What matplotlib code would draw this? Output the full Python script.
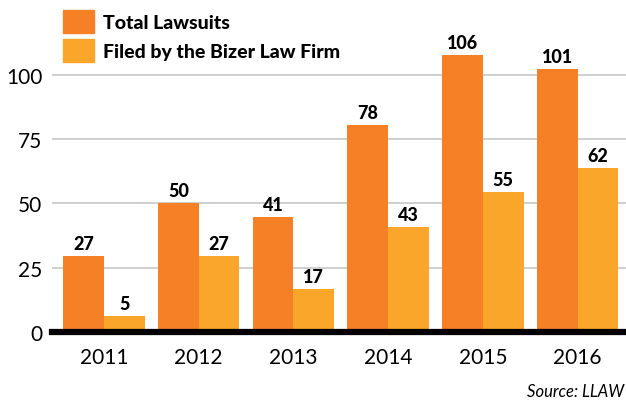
import numpy as np
import matplotlib.pyplot as plt
from matplotlib.patches import Rectangle

# data
years = ["2011", "2012", "2013", "2014", "2015", "2016"]
total_heights = [29.5, 50, 44.6, 80.4, 107.7, 102.1]
total_labels = [27, 50, 41, 78, 106, 101]
bizer_heights = [6.2, 29.5, 16.6, 40.7, 54.3, 63.6]
bizer_labels = [5, 27, 17, 43, 55, 62]
yticks = [0, 25, 50, 75, 100]

c_total = "#F58026"
c_bizer = "#F9A62A"
font = ["Lato", "DejaVu Sans"]

W, H = 626, 402
fig = plt.figure(figsize=(W / 100, H / 100), dpi=100)
ax = fig.add_axes([52 / W, (H - 333) / H, 574 / W, 293 / H])

x = np.arange(len(years))
bw = 0.43
ax.bar(x - bw / 2, total_heights, bw, color=c_total, zorder=2)
ax.bar(x + bw / 2, bizer_heights, bw, color=c_bizer, zorder=2)

for xi, h, lab in zip(x - bw / 2, total_heights, total_labels):
    ax.annotate(str(lab), (xi, h), xytext=(0, 3), textcoords="offset points",
                ha="center", va="bottom", fontsize=13, fontweight="black", family=font)
for xi, h, lab in zip(x + bw / 2, bizer_heights, bizer_labels):
    ax.annotate(str(lab), (xi, h), xytext=(0, 3), textcoords="offset points",
                ha="center", va="bottom", fontsize=13, fontweight="black", family=font)

ax.set_xlim(-0.549, 5.512)
ax.set_ylim(0, 293 / 2.572)
ax.set_yticks(yticks)
ax.set_yticklabels([str(v) for v in yticks], family=font, fontsize=15)
ax.set_xticks(x)
ax.set_xticklabels(years, family=font, fontsize=15)
ax.tick_params(axis="y", length=0, pad=7)
ax.tick_params(axis="x", length=0, pad=11)
for t in yticks[1:]:
    ax.axhline(t, color="#CCCCCC", lw=1.3, zorder=1)
ax.axhline(0, color="black", lw=4.5, zorder=3, clip_on=False)
for s in ax.spines.values():
    s.set_visible(False)

# legend drawn by hand in pixel positions
for y0, col, txt in [(11, c_total, "Total Lawsuits"),
                     (40, c_bizer, "Filed by the Bizer Law Firm")]:
    fig.patches.append(Rectangle((63 / W, 1 - (y0 + 23) / H), 31 / W, 23 / H,
                                 color=col, transform=fig.transFigure))
    fig.text(103 / W, 1 - (y0 + 12.5) / H, txt, ha="left", va="center",
             fontsize=14, fontweight="black", family=font)

fig.text(624 / W, 1 - 392 / H, "Source: LLAW", ha="right", va="center",
         fontsize=12, style="italic", family=font)

fig.savefig("out.png", dpi=100)
